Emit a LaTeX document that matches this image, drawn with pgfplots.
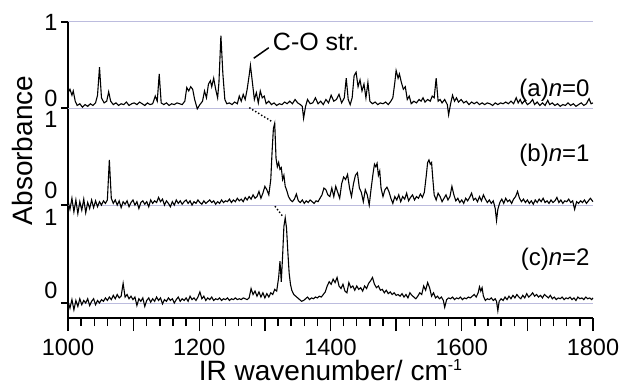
\documentclass[border=0pt]{standalone}
\usepackage{pgfplots}
\pgfplotsset{compat=1.18}
\usepackage{pgfplotstable}
\usepackage{fontspec}
\setmainfont{Liberation Sans}
\definecolor{baseln}{RGB}{188,188,222}

\pgfplotstableread{
x y
1000 0.18
1003 0.22
1006 0.15
1008 0.2
1011 0.08
1014 0.03
1018 0.05
1022 0.01
1026 0.04
1030 0.02
1034 0.05
1038 0.03
1042 0.06
1045 0.15
1048 0.48
1051 0.12
1055 0.06
1059 0.08
1062 0.19
1065 0.08
1069 0.04
1073 0.06
1077 0.03
1081 0.05
1085 0.04
1089 0.07
1093 0.03
1097 0.05
1101 0.06
1105 0.04
1109 0.07
1113 0.05
1117 0.03
1121 0.06
1125 0.04
1129 0.05
1133 0.14
1136 0.08
1139 0.40
1142 0.06
1146 0.04
1150 0.06
1154 0.03
1158 0.05
1162 0.04
1166 0.06
1170 0.05
1174 0.04
1178 0.08
1181 0.24
1184 0.2
1187 0.25
1190 0.22
1193 0.1
1197 -0.01
1201 0.04
1205 0.08
1208 0.2
1211 0.12
1214 0.28
1217 0.32
1219 0.25
1222 0.35
1225 0.22
1228 0.12
1230 0.3
1233 0.85
1236 0.4
1239 0.1
1242 0.05
1246 0.06
1250 0.04
1254 0.07
1258 0.05
1261 0.14
1264 0.08
1267 0.16
1270 0.1
1273 0.22
1276 0.38
1278 0.5
1281 0.3
1284 0.1
1287 0.18
1290 0.06
1293 0.2
1296 0.12
1299 0.14
1302 0.05
1306 0.08
1310 0.04
1314 0.06
1318 0.03
1322 0.05
1326 0.04
1330 0.07
1334 0.05
1338 0.08
1342 0.05
1346 0.1
1350 0.06
1354 0.04
1357 0.02
1359 -0.12
1362 0.02
1365 0.1
1369 0.05
1373 0.06
1377 0.12
1381 0.05
1385 0.08
1389 0.04
1393 0.1
1397 0.06
1401 0.15
1405 0.08
1409 0.1
1413 0.16
1417 0.06
1421 0.12
1424 0.35
1427 0.1
1430 0.04
1433 0.12
1436 0.38
1439 0.42
1442 0.25
1445 0.33
1448 0.2
1451 0.28
1454 0.12
1457 0.3
1460 0.08
1464 0.05
1468 0.07
1472 0.04
1476 0.06
1480 0.05
1484 0.07
1488 0.04
1492 0.08
1495 0.12
1498 0.3
1500 0.44
1503 0.35
1505 0.4
1508 0.3
1511 0.22
1514 0.25
1517 0.1
1520 0.14
1523 0.05
1527 0.08
1531 0.06
1535 0.1
1538 0.08
1541 0.12
1544 0.07
1548 0.1
1552 0.08
1555 0.14
1558 0.12
1561 0.35
1564 0.08
1567 0.1
1570 0.06
1574 0.1
1578 0.04
1580 -0.08
1583 0.05
1586 0.15
1589 0.08
1592 0.12
1595 0.07
1599 0.1
1603 0.06
1607 0.08
1611 0.04
1615 0.07
1619 0.05
1623 0.07
1627 0.04
1631 0.06
1635 0.04
1639 0.06
1643 0.05
1647 0.03
1651 0.06
1655 0.04
1659 0.06
1663 0.05
1667 0.07
1671 0.05
1675 0.08
1679 0.05
1683 0.12
1686 0.06
1689 0.1
1692 0.05
1696 0.09
1700 0.04
1704 0.06
1708 0.1
1711 0.04
1715 0.07
1719 0.03
1723 0.06
1727 0.03
1731 0.09
1734 0.04
1738 0.06
1742 0.03
1746 0.05
1750 0.02
1754 0.04
1758 0.03
1762 0.06
1766 0.03
1770 0.05
1774 0.02
1778 0.04
1782 0.06
1786 0.03
1790 0.05
1794 0.11
1797 0.05
1800 0.06
}\specA

\pgfplotstableread{
x y
1000 0.05
1003 -0.05
1006 0.08
1009 -0.08
1012 0.06
1015 -0.1
1018 0.04
1021 -0.06
1024 0.07
1027 -0.09
1030 0.03
1033 -0.04
1036 0.06
1039 -0.03
1042 0.05
1045 -0.02
1048 0.04
1051 0.0
1054 0.05
1057 0.02
1060 0.06
1063 0.53
1066 0.08
1069 0.02
1072 0.06
1075 0.0
1078 0.05
1081 -0.03
1084 0.04
1087 0.01
1090 0.05
1093 -0.02
1096 0.03
1099 0.06
1102 0.0
1105 0.04
1108 -0.04
1111 0.03
1114 0.05
1117 0.01
1120 0.04
1123 -0.02
1126 0.06
1129 0.02
1132 0.05
1135 0.03
1138 0.09
1141 0.04
1144 0.07
1147 0.0
1150 0.05
1153 0.02
1156 -0.02
1159 0.04
1162 0.0
1165 0.06
1168 0.02
1171 0.05
1174 0.01
1177 0.04
1180 0.06
1183 0.02
1186 0.05
1189 0.0
1192 0.04
1195 0.02
1198 0.06
1201 0.03
1204 0.01
1207 0.05
1210 0.02
1213 0.04
1216 0.06
1219 0.03
1222 0.05
1225 0.01
1228 0.04
1231 0.02
1234 0.06
1237 0.03
1240 0.05
1243 0.04
1246 0.07
1249 0.03
1252 0.06
1255 0.04
1258 0.08
1261 0.05
1264 0.07
1267 0.04
1270 0.09
1273 0.06
1276 0.1
1279 0.07
1282 0.12
1285 0.08
1288 0.1
1291 0.16
1294 0.08
1297 0.14
1300 0.22
1303 0.18
1306 0.12
1309 0.3
1311 0.63
1313 0.9
1315 0.96
1317 0.55
1319 0.45
1321 0.5
1323 0.42
1325 0.44
1327 0.3
1329 0.35
1331 0.22
1333 0.18
1336 0.1
1339 0.06
1342 0.04
1345 0.07
1348 0.13
1351 0.05
1354 0.03
1357 0.06
1360 0.02
1363 0.05
1366 0.03
1369 0.06
1372 0.04
1375 0.02
1378 0.05
1381 0.04
1384 0.08
1387 0.12
1390 0.2
1393 0.18
1396 0.12
1399 0.1
1402 0.2
1405 0.1
1408 0.22
1411 0.15
1414 0.08
1417 0.25
1420 0.33
1423 0.3
1426 0.36
1429 0.2
1432 0.1
1435 0.25
1438 0.35
1441 0.38
1444 0.2
1447 0.15
1450 0.04
1453 0.18
1456 0.12
1459 0.0
1462 0.2
1465 0.38
1467 0.48
1469 0.45
1471 0.49
1473 0.35
1475 0.4
1477 0.2
1480 0.1
1483 0.18
1486 0.21
1489 0.16
1492 0.08
1495 0.02
1498 0.1
1501 0.06
1504 0.12
1507 0.04
1510 0.1
1513 0.07
1516 0.14
1519 0.05
1522 0.09
1525 0.12
1528 0.06
1531 0.1
1534 0.08
1537 0.13
1540 0.09
1543 0.15
1546 0.35
1548 0.5
1550 0.53
1552 0.48
1554 0.5
1556 0.3
1558 0.12
1561 0.06
1564 0.14
1567 0.1
1570 0.04
1573 0.08
1576 0.12
1579 0.06
1582 0.1
1585 0.22
1588 0.12
1591 0.05
1594 0.08
1597 0.03
1600 0.06
1603 0.02
1606 0.08
1609 0.05
1612 0.09
1615 0.14
1618 0.06
1621 0.08
1624 0.04
1627 0.1
1630 0.05
1633 0.12
1636 0.07
1639 0.03
1642 0.06
1645 0.02
1648 0.05
1651 -0.04
1653 -0.18
1655 -0.05
1658 0.03
1661 0.07
1664 0.02
1667 0.08
1670 0.04
1673 0.06
1676 0.02
1679 0.07
1682 0.1
1685 0.16
1688 0.08
1691 0.04
1694 0.07
1697 0.03
1700 0.06
1703 0.02
1706 0.05
1709 0.01
1712 0.06
1715 0.03
1718 0.07
1721 0.04
1724 0.08
1727 0.03
1730 0.05
1733 0.02
1736 0.06
1739 0.03
1742 0.05
1745 0.09
1748 0.03
1751 0.06
1754 0.02
1757 0.05
1760 0.04
1763 0.07
1766 0.03
1769 0.05
1772 -0.05
1775 0.04
1778 0.02
1781 0.05
1784 0.03
1787 0.06
1790 0.02
1793 0.05
1796 0.08
1800 0.04
}\specB

\pgfplotstableread{
x y
1000 0.02
1003 -0.06
1006 0.04
1009 -0.08
1012 0.03
1015 -0.04
1018 0.05
1021 -0.02
1024 0.03
1027 0.0
1030 0.05
1033 -0.03
1036 0.02
1039 0.05
1042 -0.02
1045 0.03
1048 0.0
1051 0.04
1054 0.02
1057 0.06
1060 0.03
1063 0.07
1066 0.04
1069 0.09
1072 0.05
1075 0.1
1078 0.06
1081 0.08
1084 0.23
1087 0.07
1090 0.1
1093 0.05
1096 0.08
1099 0.04
1102 0.07
1105 -0.03
1108 0.05
1111 0.02
1114 0.06
1117 -0.04
1120 0.03
1123 0.06
1126 0.01
1129 0.05
1132 0.02
1135 0.07
1138 0.03
1141 0.06
1144 -0.01
1147 0.04
1150 0.02
1153 0.06
1156 0.03
1159 0.05
1162 0.0
1165 0.04
1168 0.07
1171 0.02
1174 0.05
1177 0.03
1180 0.06
1183 0.02
1186 0.08
1189 0.04
1192 0.06
1195 0.03
1198 0.07
1201 0.13
1204 0.05
1207 0.08
1210 0.03
1213 0.06
1216 0.04
1219 0.07
1222 0.03
1225 0.05
1228 0.04
1231 0.06
1234 0.03
1237 0.05
1240 0.04
1243 0.06
1246 0.03
1249 0.05
1252 0.04
1255 0.06
1258 0.04
1261 0.05
1264 0.04
1267 0.06
1270 0.05
1273 0.04
1276 0.06
1279 0.17
1282 0.1
1285 0.14
1288 0.08
1291 0.13
1294 0.07
1297 0.12
1300 0.06
1303 0.11
1306 0.07
1309 0.12
1312 0.1
1315 0.16
1318 0.14
1321 0.3
1323 0.49
1325 0.25
1327 0.55
1329 0.9
1331 1.0
1333 0.88
1335 0.6
1337 0.35
1339 0.22
1341 0.15
1344 0.1
1347 0.08
1350 0.06
1353 0.04
1356 0.02
1359 0.03
1362 0.05
1365 0.07
1368 0.04
1371 0.06
1374 0.05
1377 0.07
1380 0.06
1383 0.08
1386 0.07
1389 0.1
1392 0.13
1395 0.2
1398 0.25
1401 0.22
1404 0.28
1407 0.24
1410 0.3
1413 0.2
1416 0.17
1419 0.22
1422 0.14
1425 0.12
1428 0.24
1431 0.18
1434 0.2
1437 0.15
1440 0.2
1443 0.16
1446 0.18
1449 0.14
1452 0.2
1455 0.17
1458 0.23
1461 0.26
1464 0.3
1467 0.22
1470 0.18
1473 0.2
1476 0.15
1479 0.16
1482 0.12
1485 0.15
1488 0.11
1491 0.13
1494 0.1
1497 0.12
1500 0.09
1503 0.1
1506 0.08
1509 0.11
1512 0.07
1515 0.1
1518 0.06
1521 0.12
1524 0.09
1527 0.07
1530 0.05
1533 0.08
1536 0.12
1539 0.1
1542 0.2
1545 0.15
1548 0.24
1551 0.18
1554 0.08
1557 0.12
1560 0.06
1563 0.08
1566 0.05
1569 0.07
1572 0.03
1574 -0.05
1577 0.04
1580 0.06
1583 0.05
1586 0.07
1589 0.04
1592 0.06
1595 0.05
1598 0.07
1601 0.04
1604 0.06
1607 0.05
1610 0.07
1613 0.06
1616 0.08
1619 0.1
1622 0.07
1625 0.12
1627 0.19
1629 0.14
1631 0.18
1633 0.08
1636 0.03
1639 0.05
1642 0.04
1645 0.06
1648 0.03
1651 0.05
1653 0.02
1655 -0.09
1657 0.02
1660 0.05
1663 0.03
1666 0.07
1669 0.04
1672 0.08
1675 0.05
1678 0.09
1681 0.06
1684 0.1
1687 0.07
1690 0.05
1693 0.09
1696 0.06
1699 0.11
1702 0.07
1705 0.09
1708 0.12
1711 0.08
1714 0.1
1717 0.07
1720 0.09
1723 0.06
1726 0.1
1729 0.08
1732 0.06
1735 0.09
1738 0.05
1741 0.07
1744 0.04
1747 0.06
1750 0.05
1753 0.07
1756 0.04
1759 0.06
1762 0.05
1765 0.07
1768 0.04
1771 0.06
1774 0.03
1777 0.07
1780 0.05
1783 0.06
1786 0.04
1789 0.07
1792 0.05
1795 0.06
1798 0.04
1800 0.06
}\specC

\begin{document}
\begin{tikzpicture}
\useasboundingbox (0,0) rectangle (620bp,385bp);
\begin{axis}[
  at={(68bp,67bp)}, anchor=south west,
  scale only axis, width=525bp, height=296bp,
  xmin=1000, xmax=1800, ymin=-0.176, ymax=3.3,
  clip=false,
  axis x line*=bottom, axis y line*=left,
  axis line style={line width=1.6bp, -},
  tick align=outside,
  xtick={1000,1100,...,1800},
  xticklabels={1000,,1200,,1400,,1600,,1800},
  minor x tick num=4,
  xtick style={line width=1.4bp, black, /pgfplots/major tick length=13bp, /pgfplots/minor tick length=8bp},
  ytick={0,1.15,2.29,3.3},
  yticklabels={},
  ytick style={line width=1.4bp, black, /pgfplots/major tick length=7bp},
  extra y ticks={0.153,1.0,1.32,2.16,2.40,3.3},
  extra y tick labels={0,1,0,1,0,1},
  extra y tick style={ytick style={draw=none}, yticklabel style={anchor=east, inner sep=0pt, xshift=-6bp}},
  ticklabel style={font=\fontsize{23.5bp}{25bp}\selectfont},
  xticklabel style={anchor=north, inner sep=0pt, yshift=-17bp},
  xlabel={IR wavenumber/ cm\raisebox{10bp}{\fontsize{16bp}{17bp}\selectfont -1}},
  ylabel={Absorbance},
  label style={font=\fontsize{28bp}{30bp}\selectfont},
  xlabel style={at={(rel axis cs:0.5,0)}, anchor=base, yshift=-62bp, inner sep=0pt},
  ylabel style={at={(axis description cs:-0.0667,0.566)}, anchor=base, inner sep=0pt},
]
% baselines
\addplot[baseln, line width=1bp] coordinates {(1000,3.3) (1800,3.3)};
\addplot[baseln, line width=1bp] coordinates {(1000,2.29) (1800,2.29)};
\addplot[baseln, line width=1bp] coordinates {(1000,1.15) (1800,1.15)};
\addplot[baseln, line width=1bp] coordinates {(1000,0) (1800,0)};
% spectra
\addplot[black, line width=1.1bp, no marks] table[x=x, y expr=\thisrow{y}+2.29] {\specA};
\addplot[black, line width=1.1bp, no marks] table[x=x, y expr=\thisrow{y}+1.15] {\specB};
\addplot[black, line width=1.1bp, no marks] table[x=x, y expr=\thisrow{y}] {\specC};
% dotted connectors
\addplot[black, line width=2bp, line cap=round, dash pattern=on 0pt off 3.5bp] coordinates {(1277,2.29) (1311,2.13)};
\addplot[black, line width=2bp, line cap=round, dash pattern=on 0pt off 3.5bp] coordinates {(1316,1.13) (1326,1.03)};
% leader line
\addplot[black, line width=1.5bp] coordinates {(1283,2.874) (1306,2.998)};
\node[anchor=west, inner sep=0pt, font=\fontsize{25bp}{27bp}\selectfont] at (axis cs:1312,3.07) {C-O str.};
\node[anchor=east, inner sep=0pt, font=\fontsize{24bp}{26bp}\selectfont] at (axis cs:1795,2.5) {(a)\textit{n}=0};
\node[anchor=east, inner sep=0pt, font=\fontsize{24bp}{26bp}\selectfont] at (axis cs:1795,1.738) {(b)\textit{n}=1};
\node[anchor=east, inner sep=0pt, font=\fontsize{24bp}{26bp}\selectfont] at (axis cs:1795,0.511) {(c)\textit{n}=2};
\end{axis}
\end{tikzpicture}
\end{document}
